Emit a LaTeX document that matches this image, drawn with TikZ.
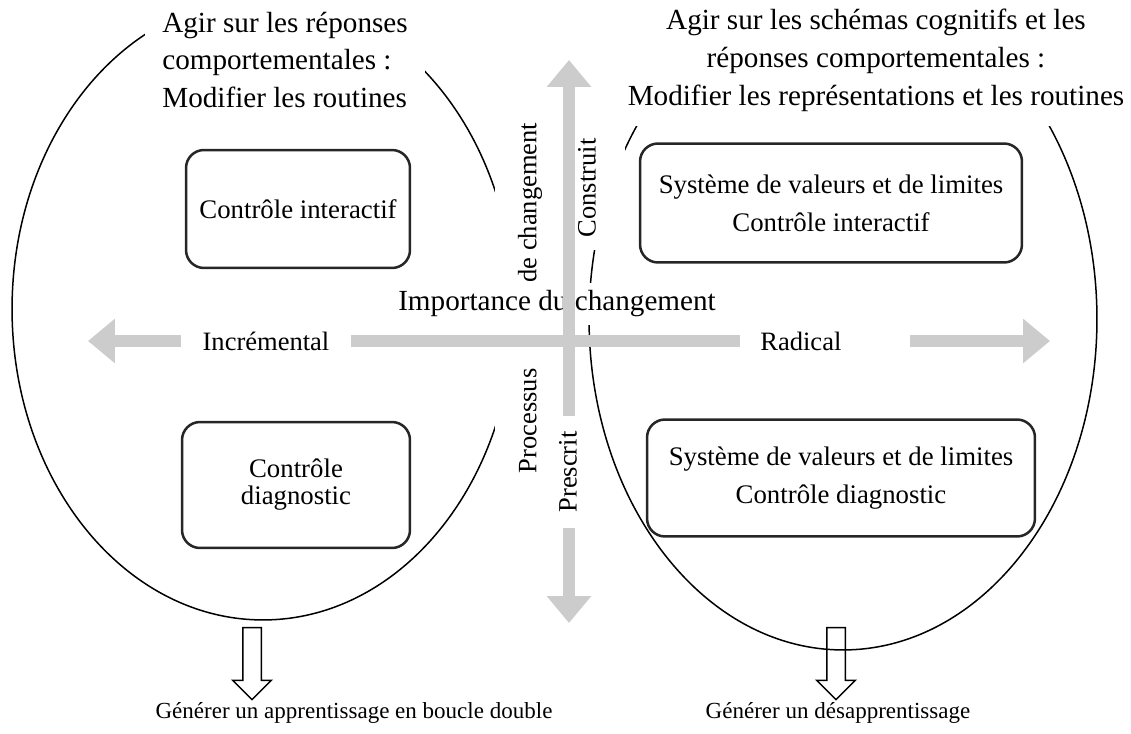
\documentclass[tikz,border=0pt]{standalone}
\usepackage{fontspec}
\setmainfont{Liberation Serif}
\usetikzlibrary{arrows.meta, shapes.arrows, positioning}
\definecolor{axisgray}{RGB}{204,204,204}

\begin{document}
\begin{tikzpicture}[
    x=0.02cm, y=-0.02cm,
    every node/.style={font=\fontsize{16.6}{21.6}\selectfont},
    ring/.style={draw, line width=0.03cm},
    heading/.style={fill=white, inner xsep=0.34cm, inner ysep=0.3cm},
    cover/.style={fill=white, inner sep=0pt},
    axisfont/.style={font=\fontsize{15.1}{18}\selectfont},
    axislabel/.style={axisfont, fill=white, text width=2.6cm, inner xsep=0.4cm, inner ysep=0.1cm},
    axis/.style={draw=axisgray, line width=0.24cm, {Triangle[length=0.54cm, width=0.86cm]}-{Triangle[length=0.54cm, width=0.86cm]}},
    ctrlbox/.style={draw=black!85, line width=0.05cm, rounded corners=0.36cm, fill=white, align=center, font=\fontsize{15.25}{21.6}\selectfont},
    hollowarrow/.style={draw, line width=0.03cm, single arrow, shape border rotate=270, single arrow head extend=0.2cm, single arrow tip angle=90, single arrow head indent=0cm, minimum height=1.44cm, inner xsep=0.17cm, inner ysep=0pt},
    outcome/.style={font=\fontsize{13.1}{16}\selectfont}
]
\useasboundingbox (0,0) rectangle (1131,733);

% Ellipses
\draw[ring] (263,309) ellipse [x radius=5.02cm, y radius=6.22cm];
\draw[ring] (843,319) ellipse [x radius=5.08cm, y radius=6.62cm];

% Headings
\node[heading, align=left, anchor=west] (actl) at (145,60) {Agir sur les réponses\\comportementales :\\Modifier les routines};
\node[heading, align=center] (actr) at (876,60) {Agir sur les schémas cognitifs et les\\réponses comportementales :\\Modifier les représentations et les routines};

% Axis titles
\node[cover, axisfont, rotate=90, minimum height=1.4cm] (proc) at (530,298) {Processus\hspace{1.72cm}de changement};
\node[cover, axisfont, rotate=90, minimum height=1.5cm, minimum width=2.5cm] (constr) at (587,188) {Construit};
\node[cover, minimum height=0.84cm] (imp) at (557,304) {Importance du changement};

% Axes
\coordinate (west) at (88,341);
\coordinate (east) at (1050,341);
\coordinate (north) at (569,60);
\coordinate (south) at (569,623);
\draw[axis] (west) -- (east);
\draw[axis] (north) -- (south);

\node[cover, axisfont, rotate=90, minimum width=2.24cm, minimum height=1.1cm] (presc) at (568,472) {Prescrit};
\node[axislabel, align=center] (incr) at (266,341) {Incrémental};
\node[axislabel, align=left, anchor=west] (radi) at (740,341) {Radical};

% Levers
\node[ctrlbox, minimum width=4.48cm, minimum height=2.36cm] (ci) at (298,209) {Contrôle interactif};
\node[ctrlbox, minimum width=4.56cm, minimum height=2.52cm, font=\fontsize{15.25}{15.4}\selectfont] (cd) at (296,485) {Contrôle\\diagnostic};
\node[ctrlbox, minimum width=7.64cm, minimum height=2.38cm] (vci) at (831,203) {Système de valeurs et de limites\\Contrôle interactif};
\node[ctrlbox, minimum width=7.76cm, minimum height=2.34cm] (vcd) at (841,478) {Système de valeurs et de limites\\Contrôle diagnostic};

% Outcomes
\node[hollowarrow] (al) at (252,659) {};
\node[hollowarrow] (ar) at (836,659) {};
\node[outcome] (gl) at (354,713) {Générer un apprentissage en boucle double};
\node[outcome] (gr) at (838,713) {Générer un désapprentissage};

\end{tikzpicture}
\end{document}
